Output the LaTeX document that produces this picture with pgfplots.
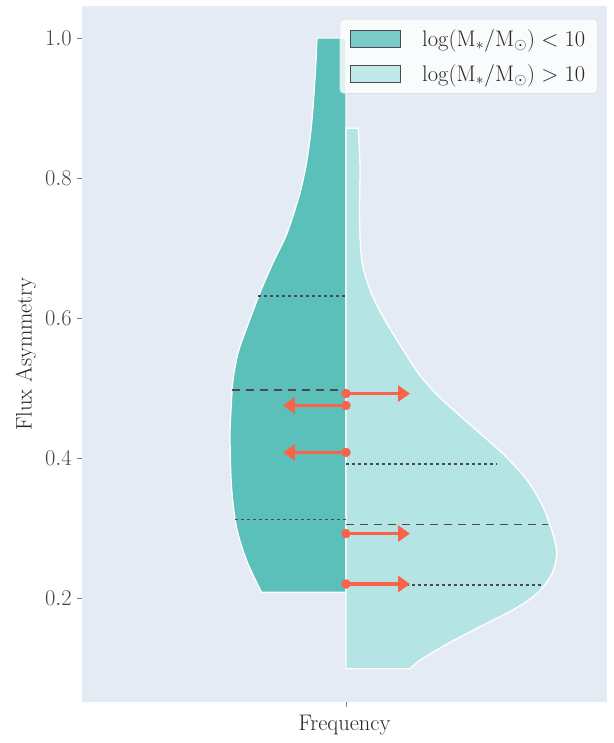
\RequirePackage{fix-cm}
\documentclass[border=0pt]{standalone}
\usepackage{pgfplots}
\pgfplotsset{compat=1.18}
\usetikzlibrary{arrows.meta}
\definecolor{bg}{RGB}{229,235,245}
\definecolor{teal1}{RGB}{91,191,186}
\definecolor{teal2}{RGB}{180,228,227}
\definecolor{arr}{RGB}{250,99,72}
\definecolor{qline}{RGB}{75,75,75}
\definecolor{ticktext}{RGB}{70,70,70}
\definecolor{labtext}{RGB}{40,40,40}
\newcommand{\bigf}{\fontsize{22.5}{27}\selectfont}
\begin{document}
\begin{tikzpicture}
\begin{axis}[
  scale only axis, width=525pt, height=696pt,
  xmin=-264, xmax=261, ymin=0.0514, ymax=1.0457,
  axis background/.style={fill=bg},
  axis line style={draw=none},
  tick align=outside, major tick length=5pt,
  tick style={color=gray, line width=0.6pt},
  tick pos=left,
  xtick={0}, xticklabels={},
  ytick={0.2,0.4,0.6,0.8,1.0},
  y tick label style={/pgf/number format/fixed, /pgf/number format/fixed zerofill, /pgf/number format/precision=1, inner sep=0pt, xshift=-5pt},
  tick label style={font=\bigf, text=ticktext},
  xlabel={Frequency}, ylabel={Flux Asymmetry},
  xlabel style={font=\bigf, text=labtext, at={(axis description cs:0.5,0)}, anchor=north, inner sep=0pt, yshift=-13pt},
  ylabel style={font=\bigf, text=labtext, at={(axis description cs:-0.096,0.5)}, anchor=base, inner sep=0pt, rotate=0},
  legend style={at={(axis description cs:1,1)}, anchor=north east, xshift=-9.5pt, yshift=-13pt,
    fill=white, fill opacity=0.8, text opacity=1, draw=gray!30, rounded corners=4pt,
    font=\bigf, text=labtext, cells={anchor=west}, row sep=12.5pt, inner xsep=10pt, inner ysep=8.5pt,
    nodes={inner sep=2pt},
    /tikz/every odd column/.append style={column sep=19.5pt}},
  legend image code/.code={\draw[#1, draw=gray!60!black, line width=0.8pt, sharp corners] (0pt,-8.5pt) rectangle (50pt,8.5pt);},
]
% left violin
\addplot[fill=teal1, draw=white, line width=1.3pt, smooth, tension=0.5] coordinates {
 (-29,1.000) (-30.5,0.955) (-34,0.883) (-39,0.826) (-46,0.779) (-59,0.721) (-73,0.679)
 (-86,0.636) (-99,0.587) (-108,0.550) (-113,0.511) (-115,0.469) (-116,0.430) (-114.5,0.359)
 (-109.5,0.301) (-99.5,0.254) (-84.5,0.208)} -- (axis cs:0,0.208) -- (axis cs:0,1.000) -- cycle;
\addlegendentry{$\log(\mathrm{M}_*/\mathrm{M}_\odot) < 10$}
% right violin
\addplot[fill=teal2, draw=white, line width=1.3pt, smooth, tension=0.5] coordinates {
 (12.3,0.871) (14,0.816) (13.5,0.744) (15.7,0.683) (24,0.640) (37.3,0.601) (57.3,0.554)
 (74,0.518) (94,0.486) (127,0.444) (157,0.406) (180.7,0.369) (197,0.330) (207,0.291) (210.7,0.263)
 (205.7,0.234) (190.7,0.206) (167,0.183) (134,0.159) (100.7,0.134) (74,0.111) (64,0.099)}
 -- (axis cs:0,0.099) -- (axis cs:0,0.871) -- cycle;
\addlegendentry{$\log(\mathrm{M}_*/\mathrm{M}_\odot) > 10$}
% quartile lines
\addplot[forget plot, qline, line width=1.8pt, dash pattern=on 3pt off 3pt] coordinates {(-88,0.631) (0,0.631)};
\addplot[forget plot, qline, line width=1.8pt, dash pattern=on 8pt off 6pt] coordinates {(-114,0.497) (0,0.497)};
\addplot[forget plot, qline, line width=1.8pt, dash pattern=on 3pt off 3pt] coordinates {(-111,0.312) (0,0.312)};
\addplot[forget plot, qline, line width=1.8pt, dash pattern=on 3pt off 3pt] coordinates {(0,0.391) (151,0.391)};
\addplot[forget plot, qline, line width=1.8pt, dash pattern=on 8pt off 6pt] coordinates {(0,0.305) (202,0.305)};
\addplot[forget plot, qline, line width=1.8pt, dash pattern=on 3pt off 3pt] coordinates {(0,0.219) (196,0.219)};
% arrows
\pgfplotsset{arrstyle/.style={forget plot, color=arr, line width=3.3pt, -{Triangle[length=12pt,width=16pt]},
  mark=*, mark size=4.5pt, mark indices={1}, mark options={solid, line width=0.3pt}}}
\addplot[arrstyle] coordinates {(0,0.492) (64,0.492)};
\addplot[arrstyle] coordinates {(0,0.475) (-63,0.475)};
\addplot[arrstyle] coordinates {(0,0.408) (-63,0.408)};
\addplot[arrstyle] coordinates {(0,0.292) (64,0.292)};
\addplot[arrstyle] coordinates {(0,0.220) (64,0.220)};
\end{axis}
\path ([shift={(-82pt,-41pt)}]current axis.south west) rectangle ([shift={(7pt,6pt)}]current axis.north east);
\end{tikzpicture}
\end{document}
